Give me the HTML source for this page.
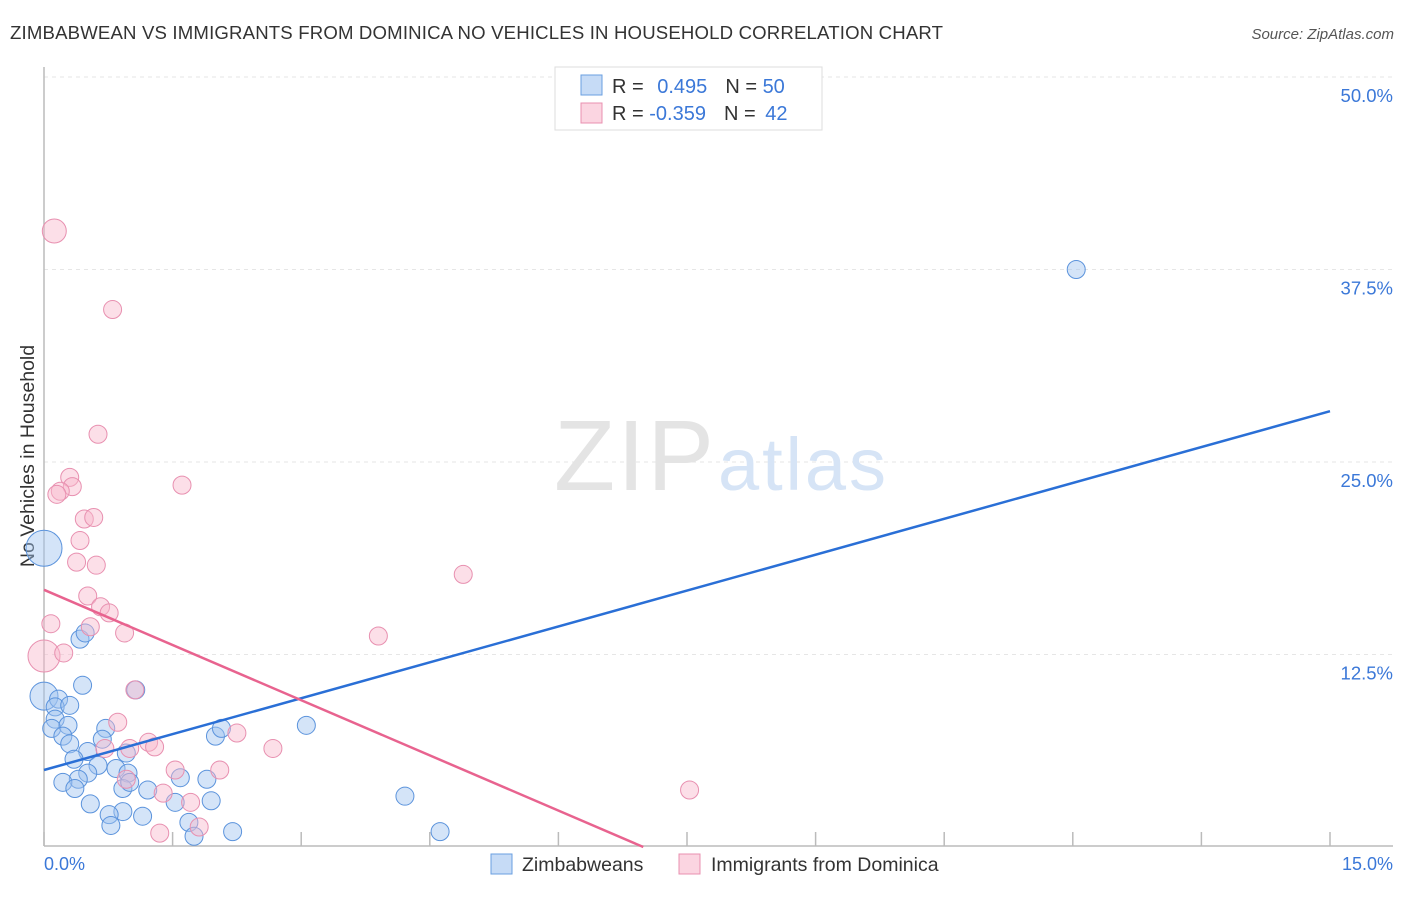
<!DOCTYPE html>
<html><head><meta charset="utf-8"><style>
body{margin:0;background:#fff;font-family:"Liberation Sans",sans-serif;}
svg text{font-family:"Liberation Sans",sans-serif;}
</style></head><body>
<svg width="1406" height="892" id="chart">
<text x="10" y="39" font-size="18.6" fill="#333" textLength="933">ZIMBABWEAN VS IMMIGRANTS FROM DOMINICA NO VEHICLES IN HOUSEHOLD CORRELATION CHART</text>
<text x="1394" y="39" font-size="15" fill="#555" font-style="italic" text-anchor="end">Source: ZipAtlas.com</text>
<text x="34" y="456" font-size="19.5" fill="#333" text-anchor="middle" transform="rotate(-90 34 456)">No Vehicles in Household</text>
<g id="grid"></g>
<line x1="44" y1="67" x2="44" y2="846" stroke="#bbb" stroke-width="1.5"/>
<line x1="44" y1="846" x2="1393" y2="846" stroke="#bbb" stroke-width="1.5"/>
<g id="xticks"></g>
<text x="634" y="490" font-size="100" fill="#e4e4e4" font-family="Liberation Serif" text-anchor="middle" textLength="160">ZIP</text>
<text x="802" y="490" font-size="74" fill="#d6e4f6" text-anchor="middle" textLength="168">atlas</text>
<g id="pts"></g>
<g id="lines"></g>
<text x="44" y="870" font-size="18" fill="#3b78d8">0.0%</text>
<text x="1393" y="870" font-size="18" fill="#3b78d8" text-anchor="end">15.0%</text>
<g>
<rect x="555" y="67" width="267" height="63" fill="#fff" stroke="#ddd"/>
<rect x="581" y="75" width="21" height="20" fill="rgba(160,195,240,0.6)" stroke="#6a9fe0"/>
<rect x="581" y="103" width="21" height="20" fill="rgba(248,185,205,0.6)" stroke="#e890b0"/>
<text x="612" y="93" font-size="20" fill="#333">R = <tspan fill="#3b78d8" dx="8">0.495</tspan><tspan dx="18" fill="#333">N = </tspan><tspan fill="#3b78d8">50</tspan></text>
<text x="612" y="120" font-size="20" fill="#333">R = <tspan fill="#3b78d8">-0.359</tspan><tspan dx="18" fill="#333">N = </tspan><tspan fill="#3b78d8" dx="4">42</tspan></text>
</g>
<g>
<rect x="491" y="854" width="21" height="20" fill="rgba(160,195,240,0.6)" stroke="#6a9fe0"/>
<text x="522" y="871" font-size="19.5" fill="#333">Zimbabweans</text></g>
<g>
<rect x="679" y="854" width="21" height="20" fill="rgba(248,185,205,0.6)" stroke="#e890b0"/>
<text x="711" y="871" font-size="19.5" fill="#333">Immigrants from Dominica</text></g>
</svg>
<script>
const yTicks=[12.5,25,37.5,50];
const yTickLabels=["12.5%","25.0%","37.5%","50.0%"];
const blueX=[0,12.04,0.45,0.42,0.48,1.07,0,0.17,0.13,0.3,0.13,0.09,0.28,0.22,0.3,0.72,0.51,0.68,0.35,0.96,0.63,0.84,0.51,0.98,0.4,0.22,0.36,0.92,1.0,1.21,1.59,1.9,2.0,2.07,3.06,1.53,1.95,0.54,0.92,0.76,1.15,0.78,1.69,1.75,2.2,4.21,4.62];
const blueY=[19.4,37.5,10.5,13.5,13.9,10.2,9.8,9.6,9.1,9.2,8.3,7.7,7.9,7.2,6.7,7.7,6.2,7.0,5.7,6.1,5.3,5.1,4.8,4.8,4.4,4.2,3.8,3.8,4.2,3.7,4.5,4.4,7.2,7.7,7.9,2.9,3.0,2.8,2.3,2.1,2.0,1.4,1.6,0.7,1.0,3.3,1.0];
const blueR=[18,9,9,9,9,9,14,9,9,9,9,9,9,9,9,9,9,9,9,9,9,9,9,9,9,9,9,9,9,9,9,9,9,9,9,9,9,9,9,9,9,9,9,9,9,9,9];
const pinkX=[0.12,0.8,0.63,0.3,0.33,0.19,0.15,1.61,0.47,0.58,0.42,0.61,0.38,4.89,0.51,0.66,0.76,0.08,0.54,0.94,3.9,0,0.23,1.06,0.86,2.25,1.22,1.29,0.71,1.0,2.67,2.05,1.53,0.96,1.39,1.71,7.53,1.81,1.35];
const pinkY=[40.0,34.9,26.8,24.0,23.4,23.1,22.9,23.5,21.3,21.4,19.9,18.3,18.5,17.7,16.3,15.6,15.2,14.5,14.3,13.9,13.7,12.4,12.6,10.2,8.1,7.4,6.8,6.5,6.4,6.4,6.4,5.0,5.0,4.4,3.5,2.9,3.7,1.3,0.9];
const pinkR=[12,9,9,9,9,9,9,9,9,9,9,9,9,9,9,9,9,9,9,9,9,16,9,9,9,9,9,9,9,9,9,9,9,9,9,9,9,9,9];
const xTicks=[0,1.5,3,4.5,6,7.5,9,10.5,12,13.5,15];
const blueLine=[[0,5.0],[15,28.3]];
const pinkLine=[[0,16.7],[6.99,0]];
const NS="http://www.w3.org/2000/svg";
const X=v=>44+v/15*1286, Y=v=>847-v*15.4;
function mk(tag,attrs,parent){const e=document.createElementNS(NS,tag);for(const k in attrs)e.setAttribute(k,attrs[k]);document.getElementById(parent).appendChild(e);return e;}
yTicks.forEach((t,i)=>{
 const l=mk('line',{x1:44,x2:1393,y1:Y(t),y2:Y(t),stroke:'#e6e6e6','stroke-dasharray':'4,4'},'grid');
 
 
 const tx=mk('text',{x:1393,y:Y(t)+25,'font-size':18.5,fill:'#3b78d8','text-anchor':'end'},'grid');
 tx.textContent=yTickLabels[i];
 
 
});
xTicks.forEach(t=>{
 const l=mk('line',{x1:X(t),x2:X(t),y1:832,y2:846,stroke:'#bbb','stroke-width':1.5},'xticks');
 
 
});
blueX.forEach((v,i)=>{
 const c=mk('circle',{cx:X(v),cy:Y(blueY[i]),r:blueR[i],fill:'rgba(160,195,240,0.45)',stroke:'#5b93dc','stroke-width':1},'pts');
 
 
});
pinkX.forEach((v,i)=>{
 const c=mk('circle',{cx:X(v),cy:Y(pinkY[i]),r:pinkR[i],fill:'rgba(248,185,205,0.45)',stroke:'#e890b0','stroke-width':1},'pts');
 
 
});
const bl=mk('line',{x1:X(blueLine[0][0]),y1:Y(blueLine[0][1]),x2:X(blueLine[1][0]),y2:Y(blueLine[1][1]),stroke:'#2a6fd6','stroke-width':2.5},'lines');


const pl=mk('line',{x1:X(pinkLine[0][0]),y1:Y(pinkLine[0][1]),x2:X(pinkLine[1][0]),y2:Y(pinkLine[1][1]),stroke:'#e8638f','stroke-width':2.5},'lines');


</script>
</body></html>
